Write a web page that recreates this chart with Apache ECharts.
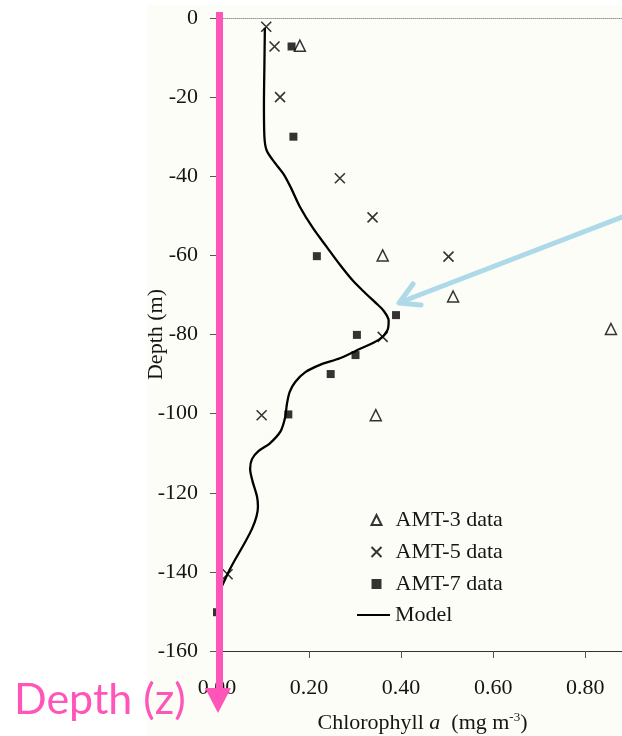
<!DOCTYPE html>
<html><head><meta charset="utf-8">
<script src="https://cdn.jsdelivr.net/npm/echarts@6/dist/echarts.min.js"></script>
<style>html,body{margin:0;padding:0;background:#fff}#c{width:622px;height:736px}</style>
</head><body><div id="c"></div>
<script>
// Data: [chlorophyll a (mg m^-3), depth (m)]
const amt3 = [[0.18,-7],[0.36,-60],[0.513,-70.4],[0.856,-78.6],[0.345,-100.4]];
const amt5 = [[0.107,-2.2],[0.125,-7.2],[0.137,-20],[0.267,-40.5],[0.338,-50.4],[0.503,-60.3],[0.36,-80.6],[0.097,-100.4],[0.023,-140.6]];
const amt7 = [[0.162,-7.2],[0.166,-30],[0.217,-60.2],[0.389,-75.1],[0.304,-80.1],[0.301,-85.2],[0.247,-90],[0.155,-100.2],[0.0,-150.2]];
const model = [[0.104,-2.5],[0.103,-12],[0.102,-22],[0.103,-30],[0.108,-33.5],[0.125,-36.5],[0.145,-39.5],[0.161,-43],[0.18,-47.7],[0.209,-53.2],[0.238,-57.8],[0.268,-62.5],[0.296,-66.5],[0.322,-69.5],[0.345,-72],[0.362,-74],[0.373,-76.5],[0.37,-79],[0.352,-81.3],[0.311,-83.6],[0.267,-86],[0.225,-87.6],[0.192,-89.5],[0.17,-92],[0.158,-94.5],[0.152,-97.5],[0.148,-101],[0.138,-104.5],[0.115,-107.5],[0.09,-109.5],[0.076,-111.5],[0.072,-114],[0.077,-117],[0.087,-121],[0.089,-123.5],[0.024,-140.3],[0.005,-145]];
const xTicks = {min:0, max:0.88, interval:0.2};
const yTicks = {min:-160, max:0, interval:20};

const serif = "'Liberation Serif','Times New Roman',serif";
const txt = '#151515';
const chart = echarts.init(document.getElementById('c'), null, {renderer:'canvas'});
const crossPath = 'path://M0,0L10,10M10,0L0,10';
chart.setOption({
  animation:false,
  backgroundColor:'#ffffff',
  grid:{left:217, right:0, top:18, bottom:85, outerBoundsMode:'none', containLabel:false},
  xAxis:[{
    type:'value', min:xTicks.min, max:xTicks.max, interval:xTicks.interval,
    position:'bottom',
    axisLine:{show:true, onZero:false, lineStyle:{color:'#333', width:1}},
    axisTick:{show:true, inside:false, length:7, lineStyle:{color:'#555'}},
    axisLabel:{showMaxLabel:false, margin:26, fontFamily:serif, fontSize:22, color:txt,
      formatter:v=>v.toFixed(2)},
    splitLine:{show:false},
    name:'Chlorophyll {i|a}  (mg m{s|-3})', nameLocation:'middle', nameGap:60, nameMoveOverlap:false,
    nameTextStyle:{fontFamily:serif, fontSize:22, color:txt, padding:[0,0,0,6],
      rich:{i:{fontFamily:serif, fontSize:22, fontStyle:'italic', color:txt},
            s:{fontFamily:serif, fontSize:13, color:txt, padding:[0,0,12,0]}}}
  },{
    type:'value', min:xTicks.min, max:xTicks.max, position:'top',
    axisLine:{show:true, onZero:false, lineStyle:{color:'#9a9a9a', type:'dotted', width:1}},
    axisTick:{show:false}, axisLabel:{show:false}, splitLine:{show:false}
  }],
  yAxis:{
    type:'value', min:yTicks.min, max:yTicks.max, interval:yTicks.interval,
    axisLine:{show:true, onZero:false, lineStyle:{color:'#333'}},
    axisTick:{show:true, length:7, lineStyle:{color:'#555'}},
    axisLabel:{margin:19, fontFamily:serif, fontSize:22, color:txt},
    splitLine:{show:false},
    name:'Depth (m)', nameLocation:'middle', nameGap:50, nameRotate:90, nameMoveOverlap:false,
    nameTextStyle:{fontFamily:serif, fontSize:22, color:txt}
  },
  legend:[{
    data:['AMT-3 data','AMT-5 data','AMT-7 data'],
    orient:'vertical', left:364, top:504, itemWidth:10, itemHeight:10, itemGap:10,
    textStyle:{fontFamily:serif, fontSize:22, color:txt, padding:[0,0,0,9]}
  },{
    data:[{name:'Model', icon:'rect'}], orient:'vertical', left:352, top:599, itemWidth:33, itemHeight:2,
    textStyle:{fontFamily:serif, fontSize:22, color:txt}
  }],
  series:[
    {name:'Model', type:'line', data:model, smooth:0.3, symbol:'none', showSymbol:false,
     lineStyle:{color:'#000', width:2.3}, itemStyle:{color:'#000'}, z:2},
    {name:'AMT-3 data', type:'scatter', data:amt3, symbol:'triangle', symbolSize:11,
     itemStyle:{color:'#fdfdf8', borderColor:'#000', borderWidth:1.5}, z:3},
    {name:'AMT-5 data', type:'scatter', data:amt5, symbol:crossPath, symbolSize:10,
     itemStyle:{color:'none', borderColor:'#000', borderWidth:1.6}, z:3},
    {name:'AMT-7 data', type:'scatter', data:amt7, symbol:'rect', symbolSize:8, clip:false,
     itemStyle:{color:'#000'}, z:3}
  ],
  graphic:[
    {type:'rect', z:-100, silent:true, shape:{x:147, y:5, width:475, height:731}, style:{fill:'#fdfdf8'}},
    {type:'rect', z:100, silent:true, shape:{x:216, y:12, width:7, height:678}, style:{fill:'#ff55b8'}},
    {type:'polygon', z:100, silent:true, shape:{points:[[205,688],[231,688],[218,713]]}, style:{fill:'#ff55b8'}},
    {type:'text', z:100, silent:true, x:14, y:700, style:{text:'Depth (z)', font:"43px Lato, 'Open Sans', sans-serif", fill:'#ff55b8', verticalAlign:'middle'}},
    {type:'polyline', z:100, silent:true, shape:{points:[[622,217],[401,302]]}, style:{stroke:'#add9e8', lineWidth:5, lineCap:'round'}},
    {type:'polyline', z:100, silent:true, shape:{points:[[413,284],[399,303],[421,305]]}, style:{stroke:'#add9e8', lineWidth:5, lineCap:'round', lineJoin:'round', fill:null}}
  ]
});
</script></body></html>
